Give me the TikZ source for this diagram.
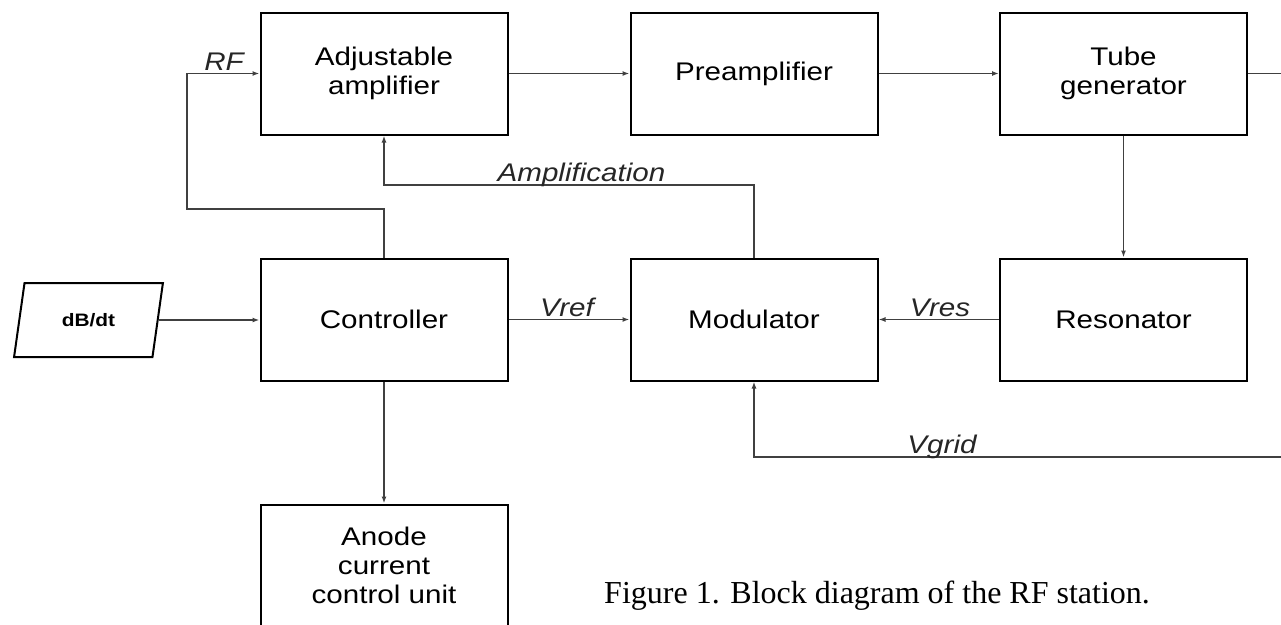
\documentclass[tikz,border=0pt]{standalone}
\usepackage{fontspec}
\setmainfont{Liberation Sans}[FakeStretch=1.16]
\newfontfamily\capfont{Liberation Serif}
\usetikzlibrary{arrows.meta,shapes.geometric}

\begin{document}
\begin{tikzpicture}[x=1pt,y=-1pt,
  block/.style={draw=black,line width=2pt,minimum width=247pt,minimum height=122pt,
    align=center,inner sep=0pt,font=\fontsize{25.5}{29}\selectfont},
  wire/.style={draw=black!75,line width=1.5pt,-{Latex[length=7pt,width=5pt]}},
  plainwire/.style={draw=black!75,line width=1.5pt},
  lbl/.style={anchor=base,inner sep=0pt,font=\fontsize{25.5}{29}\selectfont\itshape,text=black!85}]
        \useasboundingbox (0,0) rectangle (1281,624);
        % top row
        \node[block] (adj) at (384,73.5) {Adjustable\\amplifier};
        \node[block] (pre) at (754,73.5) {Preamplifier};
        \node[block] (tube) at (1123.5,73.5) {Tube\\generator};
        % middle row
        \node[block] (ctrl) at (384,319.5) {Controller};
        \node[block] (mod) at (754,319.5) {Modulator};
        \node[block] (res) at (1123.5,319.5) {Resonator};
        \node[block] (anode) at (384,565.5) {Anode\\current\\control unit};
        \node[trapezium,trapezium left angle=72,trapezium right angle=108,
              trapezium stretches=true,minimum width=149pt,minimum height=74pt,
              draw,line width=2pt,inner sep=0pt,
              font=\bfseries\fontsize{18}{20}\selectfont] (dbdt) at (88.5,320) {dB/dt};
        \coordinate (rf) at (187,209);
        \coordinate (amp) at (754,185);
        \coordinate (tubeout) at (1290,73.5);
        \coordinate (grid) at (1290,457);
        % connections
        \draw[wire] (adj.east) -- (pre.west);
        \draw[wire] (pre.east) -- (tube.west);
        \draw[plainwire] (tube.east) -- (tubeout);
        \draw[wire] (tube.south) -- (res.north);
        \draw[wire] (res.west) -- (mod.east);
        \draw[wire] (ctrl.east) -- (mod.west);
        \draw[wire] (dbdt.right side) -- (dbdt.right side -| ctrl.west);
        \draw[wire] (ctrl.south) -- (anode.north);
        \draw[wire] (ctrl.north) |- (rf) |- (adj.west);
        \draw[wire] (mod.north) -- (amp) -| (adj.south);
        \draw[wire] (grid) -| (mod.south);
        % labels
        \node[lbl] (rflbl) at (224,70) {RF};
        \node[lbl] (amplbl) at (581.5,181) {Amplification};
        \node[lbl] (vref) at (567,316) {Vref};
        \node[lbl] (vres) at (940,316) {Vres};
        \node[lbl] (vgrid) at (942,453) {Vgrid};
        \node[anchor=base west,inner sep=0pt,font=\capfont\fontsize{32}{36}\selectfont] (cap)
            at (604,603) {Figure 1. Block diagram of the RF station.};
\end{tikzpicture}
\end{document}
